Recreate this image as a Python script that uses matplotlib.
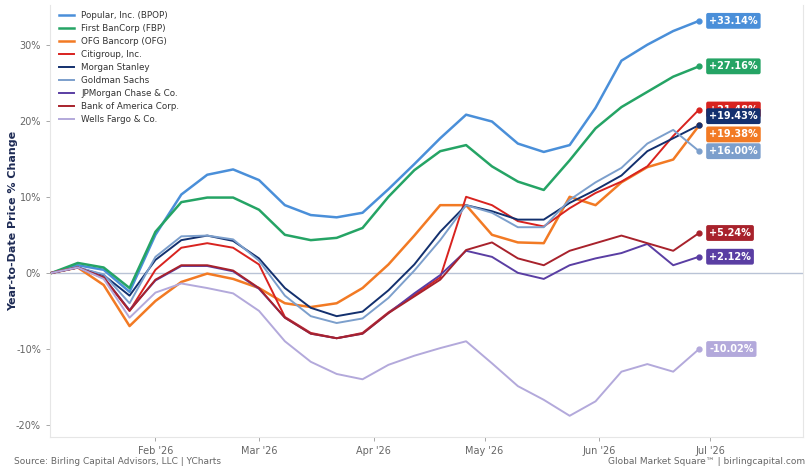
import numpy as np
import pandas as pd
import matplotlib
matplotlib.use("Agg")
import matplotlib.pyplot as plt
import matplotlib.dates as mdates

# weekly closes, YTD % change
dates = pd.date_range("2026-01-04", periods=26, freq="7D")

names = ["Popular, Inc. (BPOP)", "First BanCorp (FBP)", "OFG Bancorp (OFG)",
         "Citigroup, Inc.", "Morgan Stanley", "Goldman Sachs",
         "JPMorgan Chase & Co.", "Bank of America Corp.", "Wells Fargo & Co."]

bpop = [0, 1.0, 0.4, -2.5, 5.0, 10.3, 12.9, 13.6, 12.2, 8.9, 7.6, 7.3, 7.9,
        11.0, 14.3, 17.7, 20.8, 19.9, 17.0, 15.9, 16.8, 21.7, 27.9, 30.0, 31.8, 33.14]
fbp = [0, 1.3, 0.7, -2.0, 5.4, 9.3, 9.9, 9.9, 8.3, 5.0, 4.3, 4.6, 5.9,
       10.0, 13.5, 16.0, 16.8, 14.0, 12.0, 10.9, 14.8, 19.0, 21.8, 23.8, 25.8, 27.16]
ofg = [0, 0.7, -1.6, -7.0, -3.7, -1.2, -0.1, -0.8, -2.0, -4.0, -4.5, -4.0, -2.0,
       1.1, 4.9, 8.9, 8.9, 5.0, 4.0, 3.9, 10.0, 8.9, 11.9, 13.9, 14.9, 19.38]
citi = [0, 0.7, -0.7, -5.0, 0.4, 3.3, 3.9, 3.3, 1.1, -5.8, -7.9, -8.6, -7.9,
        -5.2, -2.9, -0.6, 10.0, 8.9, 6.8, 6.1, 8.5, 10.5, 12.0, 14.0, 18.0, 21.48]
ms = [0, 0.7, -0.3, -3.0, 1.7, 4.3, 4.9, 4.2, 1.9, -2.0, -4.6, -5.7, -5.1,
      -2.3, 1.1, 5.4, 8.9, 8.1, 7.0, 7.0, 9.2, 10.9, 12.8, 16.0, 17.7, 19.43]
gs = [0, 0.7, -0.2, -4.0, 2.1, 4.8, 4.9, 4.4, 1.6, -3.0, -5.7, -6.6, -6.0,
      -3.3, 0.3, 4.3, 8.9, 7.9, 6.0, 6.0, 9.6, 11.9, 13.8, 17.0, 18.8, 16.00]
jpm = [0, 0.7, -0.6, -4.9, -1.0, 0.9, 0.9, 0.2, -2.1, -5.9, -8.0, -8.6, -8.0,
       -5.3, -2.7, -0.3, 2.9, 2.1, 0.0, -0.8, 1.0, 1.9, 2.6, 3.8, 1.0, 2.12]
bac = [0, 0.7, -0.6, -5.0, -0.9, 1.0, 1.0, 0.3, -2.0, -5.9, -8.0, -8.6, -8.0,
       -5.3, -3.1, -0.9, 3.0, 4.0, 1.9, 1.0, 2.9, 3.9, 4.9, 3.9, 2.9, 5.24]
wfc = [0, 0.7, -0.8, -5.9, -2.6, -1.4, -2.0, -2.7, -5.0, -9.0, -11.7, -13.3, -14.0,
       -12.1, -10.9, -9.9, -9.0, -11.9, -14.9, -16.7, -18.8, -16.9, -13.0, -12.0, -13.0, -10.02]

series = [bpop, fbp, ofg, citi, ms, gs, jpm, bac, wfc]
colors = ["#4A8FD9", "#25A465", "#F27A24", "#D8231F", "#13306E",
          "#7C9FCC", "#5A3EA3", "#A8222C", "#B3A9DB"]
widths = [1.8, 1.8, 1.8, 1.4, 1.4, 1.4, 1.4, 1.4, 1.4]

narrow = ["Liberation Sans Narrow", "DejaVu Sans"]

fig = plt.figure(figsize=(8.11, 4.72), dpi=100)
ax = fig.add_axes([0.0617, 0.074, 0.928, 0.915])

ax.axhline(0, color="#B9C3D6", lw=1.0, zorder=1)

for name, vals, c, lw in zip(names, series, colors, widths):
    ax.plot(dates, vals, color=c, lw=lw, label=name, zorder=3)
    ax.plot(dates[-1], vals[-1], "o", color=c, ms=3.5, zorder=4)

# end labels; nudge nearly identical values apart
finals = np.array([s[-1] for s in series])
label_y = finals.copy()
order = np.argsort(finals)
for a, b in zip(order[:-1], order[1:]):
    if finals[b] - finals[a] < 1.0:
        mid = (finals[a] + finals[b]) / 2
        label_y[a] = mid - 1.2
        label_y[b] = mid + 1.2

for vals, ly, c in zip(series, label_y, colors):
    txt = f"{vals[-1]:+.2f}%"
    ax.annotate(txt, xy=(dates[-1], ly), xytext=(10, 0), textcoords="offset pixels",
                ha="left", va="center", fontsize=7, fontweight="bold", color="white",
                bbox=dict(boxstyle="round,pad=0.3,rounding_size=0.2", fc=c, ec="none"),
                zorder=5)

ax.set_ylim(-21.6, 35.2)
ax.set_yticks([-20, -10, 0, 10, 20, 30])
ax.set_yticklabels(["-20%", "-10%", "0%", "10%", "20%", "30%"])
ax.set_xlim(pd.Timestamp("2026-01-03 12:00"), pd.Timestamp("2026-07-26"))
ax.xaxis.set_major_locator(mdates.MonthLocator(bymonth=range(2, 8)))
ax.xaxis.set_major_formatter(mdates.DateFormatter("%b '%y"))

for lab in ax.get_xticklabels() + ax.get_yticklabels():
    lab.set_family(narrow)
ax.tick_params(axis="both", labelsize=7, colors="#9A9A9A", labelcolor="#666666",
               length=3, width=0.6)

ax.spines["top"].set_visible(False)
for side in ["left", "bottom", "right"]:
    ax.spines[side].set_color("#E6E6E6")
    ax.spines[side].set_linewidth(0.8)

ax.set_ylabel("Year-to-Date Price % Change", fontsize=8, fontweight="bold",
              color="#1E2B55")
ax.yaxis.set_label_coords(-0.043, 0.5)

leg = ax.legend(loc="upper left", bbox_to_anchor=(0.004, 1.0), frameon=False,
                fontsize=6.3, handlelength=1.7, labelspacing=0.45, borderaxespad=0.3)
for t in leg.get_texts():
    t.set_color("#333333")

fig.text(0.017, 0.012, "Source: Birling Capital Advisors, LLC | YCharts", fontsize=6.5,
         color="#666666", family=narrow, ha="left", va="bottom")
fig.text(0.993, 0.012, "Global Market Square\u2122 | birlingcapital.com", fontsize=6.5,
         color="#666666", family=narrow, ha="right", va="bottom")

fig.savefig("out.png", dpi=100)
